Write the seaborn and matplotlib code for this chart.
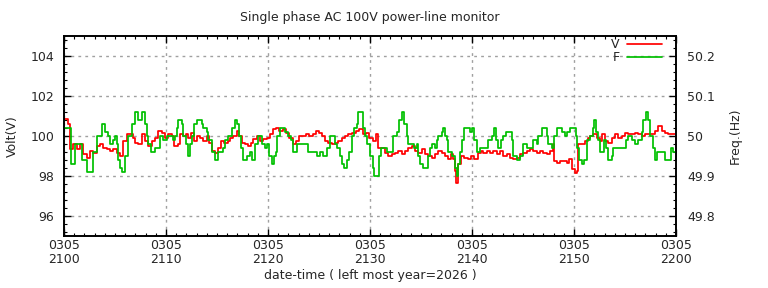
import matplotlib
matplotlib.use("Agg")
import matplotlib.pyplot as plt
import seaborn as sns
import pandas as pd
from matplotlib.ticker import MultipleLocator

# minutes after 21:00 (2026-03-05) and readings
volt_min = [0.00, 0.10, 0.39, 0.59, 0.88, 1.27, 1.57, 1.86, 2.25, 2.55, 2.84, 3.24, 3.53, 3.82, 4.22,
            4.51, 4.80, 5.20, 5.49, 5.78, 6.18, 6.47, 6.76, 6.96, 7.25, 7.65, 7.94, 8.24, 8.63, 8.92,
            9.22, 9.61, 9.90, 10.20, 10.59, 10.78, 11.18, 11.37, 11.67, 11.96, 12.16, 12.45, 12.75,
            13.04, 13.33, 13.63, 14.02, 14.22, 14.51, 14.80, 15.10, 15.39, 15.69, 16.08, 16.27, 16.57,
            16.96, 17.16, 17.45, 17.75, 18.04, 18.33, 18.53, 18.92, 19.22, 19.51, 19.90, 20.20, 20.49,
            20.78, 21.08, 21.47, 21.76, 22.06, 22.45, 22.75, 23.04, 23.43, 23.73, 24.02, 24.41, 24.71,
            25.00, 25.29, 25.59, 25.88, 26.27, 26.57, 26.86, 27.25, 27.55, 27.84, 28.24, 28.63, 28.92,
            29.31, 29.61, 29.90, 30.29, 30.59, 30.78, 31.18, 31.47, 31.76, 32.16, 32.45, 32.75, 33.14,
            33.43, 33.73, 34.12, 34.41, 34.71, 35.10, 35.39, 35.69, 36.08, 36.37, 36.67, 37.06, 37.35,
            37.65, 37.94, 38.14, 38.33, 38.43, 38.63, 38.92, 39.22, 39.61, 39.90, 40.20, 40.59, 40.88,
            41.08, 41.47, 41.76, 42.06, 42.45, 42.75, 43.04, 43.43, 43.73, 44.02, 44.41, 44.71, 45.00,
            45.39, 45.69, 45.98, 46.37, 46.67, 46.96, 47.35, 47.65, 47.94, 48.04, 48.33, 48.63, 48.92,
            49.31, 49.51, 49.80, 50.10, 50.29, 50.39, 50.78, 51.08, 51.37, 51.57, 51.86, 52.25, 52.55,
            52.75, 53.04, 53.33, 53.73, 54.02, 54.31, 54.71, 55.00, 55.29, 55.69, 55.98, 56.27, 56.67,
            56.96, 57.25, 57.65, 57.94, 58.24, 58.63, 58.92, 59.22, 59.61, 60.00]
volt = [100.85, 100.85, 100.60, 99.35, 99.60, 99.35, 99.60, 99.10, 98.90, 99.25, 99.15, 99.50, 99.60,
        99.40, 99.35, 99.25, 99.35, 99.15, 99.00, 99.75, 100.10, 100.10, 99.90, 99.65, 99.60, 100.10,
        99.75, 99.50, 99.75, 99.90, 100.25, 100.15, 99.90, 100.10, 100.00, 99.50, 99.60, 100.10, 100.00,
        100.10, 99.90, 100.15, 99.75, 100.00, 99.90, 99.75, 100.00, 99.65, 99.25, 99.15, 99.40, 99.75,
        99.65, 99.75, 99.90, 100.00, 100.25, 100.00, 99.65, 99.60, 99.50, 99.65, 99.85, 100.00, 99.75,
        99.85, 99.90, 100.10, 100.35, 100.40, 100.25, 100.35, 100.15, 99.90, 99.60, 99.75, 100.00,
        100.00, 100.10, 100.00, 100.10, 100.25, 100.15, 100.00, 99.75, 99.65, 99.60, 99.65, 99.75,
        99.90, 100.00, 100.10, 100.15, 100.25, 100.35, 100.10, 100.15, 99.90, 99.75, 100.10, 99.40,
        99.40, 99.15, 99.00, 99.10, 99.15, 99.25, 99.10, 99.25, 99.40, 99.50, 99.25, 99.15, 99.35,
        99.10, 99.00, 98.90, 99.10, 99.25, 99.15, 99.00, 98.85, 99.10, 98.85, 98.25, 97.65, 98.60,
        99.00, 98.90, 98.85, 99.00, 98.85, 99.15, 99.25, 99.15, 99.25, 99.15, 99.25, 99.10, 99.25,
        99.00, 99.10, 98.90, 98.85, 98.90, 99.10, 99.15, 99.25, 99.35, 99.25, 99.15, 99.25, 99.15,
        99.10, 99.25, 99.60, 98.75, 98.65, 98.75, 98.75, 98.65, 98.85, 98.35, 98.15, 98.25, 99.60,
        99.60, 99.75, 99.90, 100.00, 100.10, 99.90, 99.75, 100.10, 99.75, 99.65, 99.90, 100.10, 99.90,
        100.00, 100.15, 100.10, 100.10, 100.15, 100.10, 100.00, 100.10, 100.10, 100.10, 100.25, 100.50,
        100.25, 100.15, 100.10, 100.10, 100.10]

freq_min = [0.00, 0.69, 1.08, 1.47, 1.76, 2.25, 2.55, 2.84, 3.24, 3.73, 4.02, 4.31, 4.51, 4.80, 5.00,
            5.20, 5.29, 5.49, 5.69, 5.98, 6.27, 6.67, 6.96, 7.25, 7.65, 7.94, 8.14, 8.24, 8.53, 8.92,
            9.41, 9.71, 10.10, 10.59, 10.69, 10.88, 11.08, 11.18, 11.57, 11.67, 11.96, 12.16, 12.35,
            12.55, 12.75, 13.04, 13.33, 13.53, 13.63, 13.82, 14.02, 14.12, 14.51, 14.80, 15.10, 15.49,
            15.59, 15.78, 16.08, 16.47, 16.76, 16.96, 17.16, 17.35, 17.55, 17.94, 18.24, 18.43, 18.73,
            19.02, 19.22, 19.41, 19.71, 19.90, 20.10, 20.39, 20.59, 20.78, 20.88, 21.18, 21.47, 21.67,
            21.96, 22.25, 22.45, 22.84, 23.33, 23.63, 23.92, 24.41, 24.80, 25.10, 25.39, 25.78, 26.08,
            26.57, 26.76, 27.06, 27.25, 27.45, 27.75, 27.94, 28.24, 28.43, 28.73, 28.82, 29.12, 29.31,
            29.51, 29.71, 30.00, 30.29, 30.39, 30.78, 30.88, 31.08, 31.47, 31.67, 31.96, 32.25, 32.65,
            32.84, 33.14, 33.33, 33.63, 33.73, 34.12, 34.31, 34.61, 34.71, 34.90, 35.20, 35.59, 35.69,
            35.88, 36.08, 36.37, 36.57, 36.67, 37.06, 37.16, 37.35, 37.55, 37.65, 38.04, 38.33, 38.53,
            38.63, 38.82, 39.02, 39.22, 39.51, 39.80, 40.00, 40.20, 40.49, 40.78, 41.27, 41.57, 41.96,
            42.16, 42.35, 42.55, 42.84, 43.04, 43.33, 43.53, 43.92, 44.02, 44.41, 44.71, 45.00, 45.39,
            45.69, 45.98, 46.37, 46.47, 46.86, 47.16, 47.35, 47.45, 47.84, 48.04, 48.33, 48.63, 48.82,
            49.12, 49.31, 49.61, 49.90, 50.20, 50.29, 50.49, 50.78, 50.98, 51.27, 51.57, 51.86, 51.96,
            52.16, 52.35, 52.55, 52.84, 52.94, 53.14, 53.33, 53.73, 53.82, 54.22, 54.51, 54.80, 55.10,
            55.29, 55.69, 55.98, 56.27, 56.67, 56.76, 57.06, 57.25, 57.45, 57.75, 57.94, 58.14, 58.43,
            58.73, 58.92, 59.22, 59.51, 59.71, 60.00]
freq = [50.02, 49.93, 49.98, 49.98, 49.94, 49.91, 49.91, 49.96, 50.00, 50.03, 50.01, 50.00, 49.98,
        49.99, 50.00, 49.98, 49.94, 49.92, 49.91, 49.95, 50.00, 50.03, 50.06, 50.04, 50.06, 50.03,
        50.00, 49.98, 49.96, 49.97, 50.00, 49.99, 50.00, 50.00, 49.99, 50.00, 50.02, 50.04, 50.03,
        50.00, 49.98, 49.95, 49.98, 50.00, 50.03, 50.04, 50.04, 50.03, 50.02, 50.02, 50.01, 49.99,
        49.96, 49.94, 49.96, 49.96, 49.97, 49.99, 50.00, 50.02, 50.04, 50.03, 50.00, 49.97, 49.94,
        49.95, 49.96, 49.94, 49.98, 50.00, 50.00, 49.98, 49.97, 49.98, 49.95, 49.93, 49.95, 49.96,
        50.00, 50.02, 50.02, 50.01, 50.00, 49.99, 49.96, 49.98, 49.98, 49.98, 49.96, 49.96, 49.95,
        49.96, 49.95, 49.97, 50.00, 49.98, 49.97, 49.95, 49.93, 49.92, 49.94, 49.96, 50.00, 50.02,
        50.03, 50.06, 50.06, 50.02, 50.00, 49.98, 49.95, 49.92, 49.90, 49.90, 49.95, 49.97, 49.97,
        49.96, 49.96, 50.00, 50.01, 50.04, 50.06, 50.03, 50.00, 49.98, 49.98, 49.97, 49.98, 49.95,
        49.93, 49.92, 49.92, 49.95, 49.97, 49.98, 49.97, 49.99, 50.00, 50.01, 50.02, 50.00, 49.99,
        49.96, 49.95, 49.92, 49.90, 49.93, 49.96, 49.99, 50.02, 50.02, 50.01, 50.02, 49.99, 49.96,
        49.97, 49.97, 49.99, 50.00, 50.02, 49.99, 49.97, 49.99, 50.00, 50.01, 50.01, 49.99, 49.95,
        49.94, 49.95, 49.98, 49.97, 49.97, 49.99, 49.98, 50.00, 50.02, 50.02, 50.00, 49.98, 49.97,
        50.00, 50.02, 50.02, 50.01, 50.00, 50.01, 50.02, 50.02, 50.00, 49.97, 49.94, 49.93, 49.94,
        49.99, 50.00, 50.02, 50.04, 50.01, 49.99, 49.96, 49.96, 49.99, 49.97, 49.94, 49.95, 49.97,
        49.97, 49.97, 49.97, 49.99, 50.00, 49.99, 49.98, 49.99, 50.01, 50.04, 50.06, 50.04, 50.00,
        49.97, 49.94, 49.96, 49.96, 49.96, 49.94, 49.94, 49.97, 49.96, 49.96]

tick_min = [0, 10, 20, 30, 40, 50, 60]
tick_labels = ["0305\n2100", "0305\n2110", "0305\n2120", "0305\n2130",
               "0305\n2140", "0305\n2150", "0305\n2200"]
volt_ticks = [96, 98, 100, 102, 104]
freq_ticks = [49.8, 49.9, 50.0, 50.1, 50.2]
freq_tick_labels = ["49.8", "49.9", "50", "50.1", "50.2"]

sns.set_style("ticks")
plt.rcParams["font.family"] = ["DejaVu Sans"]
plt.rcParams["font.size"] = 9

df_v = pd.DataFrame({"t": volt_min, "v": volt})
df_f = pd.DataFrame({"t": freq_min, "f": freq})

fig = plt.figure(figsize=(7.68, 2.88), dpi=100)
ax = fig.add_axes([64 / 768, 1 - 236 / 288, 612 / 768, 200 / 288])
ax2 = ax.twinx()

sns.lineplot(data=df_v, x="t", y="v", ax=ax, color="#ff0000", lw=1.25,
             drawstyle="steps-post", label="V", legend=False)
sns.lineplot(data=df_f, x="t", y="f", ax=ax2, color="#00c000", lw=1.25,
             drawstyle="steps-post", label="F", legend=False)

ax.set_xlim(0, 60)
ax.set_ylim(95, 105)
ax2.set_ylim(49.75, 50.25)

ax.set_xticks(tick_min)
ax.set_xticklabels(tick_labels, linespacing=1.15)
ax.xaxis.set_minor_locator(MultipleLocator(1))
ax.set_yticks(volt_ticks)
ax.yaxis.set_minor_locator(MultipleLocator(0.4))
ax2.set_yticks(freq_ticks)
ax2.set_yticklabels(freq_tick_labels)
ax2.yaxis.set_minor_locator(MultipleLocator(0.02))

ax.tick_params(axis="both", which="both", direction="in", top=True, color="black")
ax.tick_params(which="major", length=5, width=1, labelsize=9)
ax.tick_params(axis="x", which="major", pad=2)
ax.tick_params(axis="y", which="major", pad=7)
ax.tick_params(which="minor", length=2.5, width=0.8)
ax.tick_params(axis="y", which="both", right=False)
ax2.tick_params(axis="y", which="both", direction="in", color="black")
ax2.tick_params(which="major", length=5, width=1, pad=8, labelsize=9)
ax2.tick_params(which="minor", length=2.5, width=0.8)

ax.grid(True, which="major", color="#a0a0a0", linestyle=(0, (2, 3)), linewidth=1)
for a in (ax, ax2):
    for s in a.spines.values():
        s.set_linewidth(1.2)
        s.set_color("black")

ax.set_xlabel("date-time ( left most year=2026 )", fontsize=9, labelpad=2)
ax.set_ylabel("Volt(V)", fontsize=9, labelpad=8)
ax2.set_ylabel("Freq.(Hz)", fontsize=9, labelpad=10)
fig.text(370 / 768, 1 - 17 / 288, "Single phase AC 100V power-line monitor",
         ha="center", va="center", fontsize=9)

handles = ax.get_lines()[:1] + ax2.get_lines()[:1]
ax2.legend(handles, ["V", "F"], loc="upper right", frameon=False, markerfirst=False,
           fontsize=9, handlelength=2.8, handletextpad=0.6, borderpad=0,
           borderaxespad=0, labelspacing=0.0, bbox_to_anchor=(598 / 612, 0.99))

fig.savefig("out.png", dpi=100)
